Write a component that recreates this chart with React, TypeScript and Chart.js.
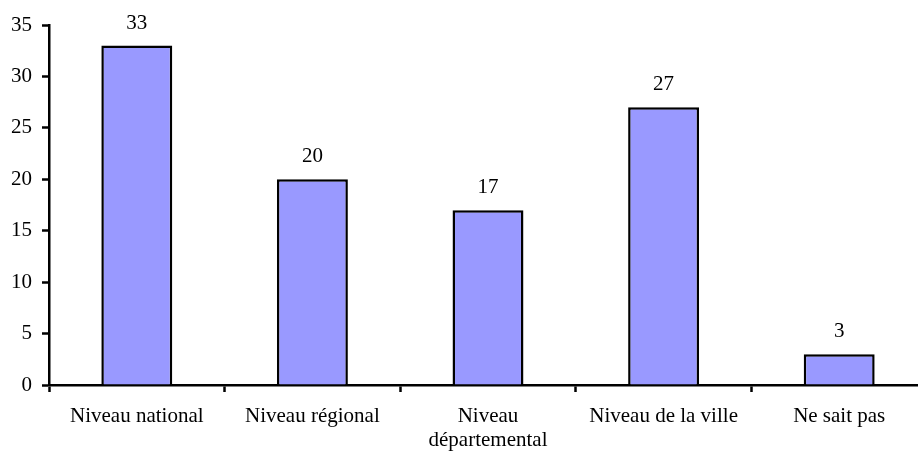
import React, { useEffect, useRef } from "react";
import { Chart, registerables } from "chart.js";

Chart.register(...registerables);

const categories: (string | string[])[] = [
  "Niveau national",
  "Niveau régional",
  ["Niveau", "départemental"],
  "Niveau de la ville",
  "Ne sait pas",
];
const values: number[] = [33, 20, 17, 27, 3];
const yMin = 0;
const yMax = 35;
const yStep = 5;

const FONT = "'Liberation Serif', 'Times New Roman', serif";

const valueLabels = {
  id: "valueLabels",
  afterDatasetsDraw(chart: any) {
    const ctx = chart.ctx;
    const meta = chart.getDatasetMeta(0);
    ctx.save();
    ctx.font = `21px ${FONT}`;
    ctx.fillStyle = "#000";
    ctx.textAlign = "center";
    ctx.textBaseline = "alphabetic";
    meta.data.forEach((bar: any, i: number) => {
      ctx.fillText(String(values[i]), bar.x, bar.y - 17);
    });
    ctx.restore();
  },
};

export default function App() {
  const ref = useRef<HTMLCanvasElement | null>(null);
  useEffect(() => {
    if (!ref.current) return;
    const chart = new Chart(ref.current, {
      type: "bar",
      data: {
        labels: categories,
        datasets: [
          {
            data: values,
            backgroundColor: "#9999FF",
            borderColor: "#000000",
            borderWidth: 2.5,
            barPercentage: 0.404,
            categoryPercentage: 1,
          },
        ],
      },
      options: {
        animation: false,
        responsive: true,
        maintainAspectRatio: false,
        layout: { padding: { top: 25, right: 0, left: 0, bottom: 0 } },
        plugins: {
          legend: { display: false },
          tooltip: { enabled: false },
        },
        scales: {
          x: {
            grid: {
              offset: true,
              drawOnChartArea: false,
              drawTicks: true,
              tickLength: 7,
              tickWidth: 2.5,
              color: "#000",
            },
            border: { display: true, color: "#000", width: 2.5 },
            ticks: {
              color: "#000",
              font: { family: FONT, size: 21, lineHeight: 1.15 },
              padding: 12,
              maxRotation: 0,
              autoSkip: false,
            },
            afterFit(scale: any) {
              scale.height = 68;
            },
          },
          y: {
            min: yMin,
            max: yMax,
            grid: {
              drawOnChartArea: false,
              drawTicks: true,
              tickLength: 7,
              tickWidth: 2.5,
              color: "#000",
            },
            border: { display: true, color: "#000", width: 2.5 },
            ticks: {
              stepSize: yStep,
              color: "#000",
              font: { family: FONT, size: 21 },
              padding: 10,
            },
            afterFit(scale: any) {
              scale.width = 49;
            },
          },
        },
      },
      plugins: [valueLabels],
    });
    return () => chart.destroy();
  }, []);

  return (
    <div style={{ position: "fixed", left: 0, top: 0, width: 918, height: 453, overflow: "hidden", background: "#fff" }}>
      <div style={{ position: "absolute", left: 0, top: 0, width: 927, height: 453 }}>
        <canvas ref={ref} />
      </div>
    </div>
  );
}
